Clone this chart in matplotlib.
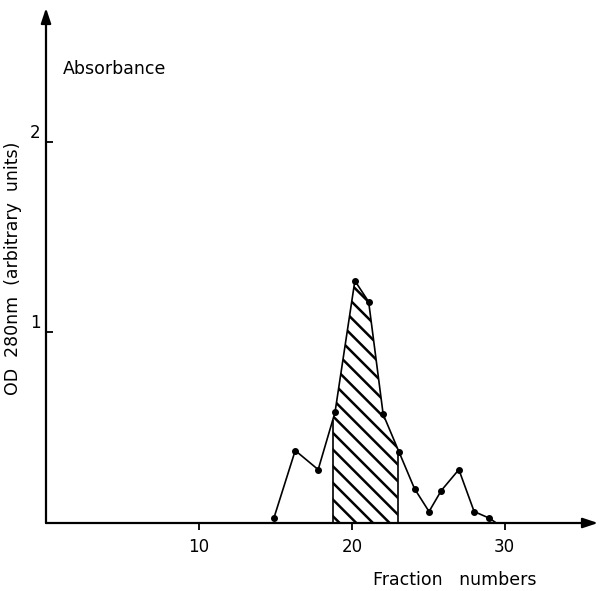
import numpy as np
import matplotlib.pyplot as plt

# fraction number / absorbance
fraction = [14.9, 16.3, 17.8, 18.9, 20.2, 21.1, 22.05, 23.1, 24.1, 25.05, 25.85, 27.0, 28.0, 29.0, 29.45]
absorb = [0.025, 0.38, 0.28, 0.58, 1.27, 1.16, 0.57, 0.37, 0.18, 0.06, 0.17, 0.28, 0.06, 0.025, 0.0]
pooled = (18.75, 23.0)        # hatched (pooled) fractions
xticks = [10, 20, 30]
yticks = [1, 2]

plt.rcParams['font.family'] = 'DejaVu Sans'
plt.rcParams['hatch.linewidth'] = 1.8

W, H = 599, 591
fig = plt.figure(figsize=(W / 100, H / 100), dpi=100)
# axes box in pixels: origin (46, 523), arrow tips at x=598 and y=8
ax = fig.add_axes([46 / W, 1 - 523 / H, (598 - 46) / W, (523 - 8) / H])
ax.set_xlim(0, 36.1)
ax.set_ylim(0, 2.70)
for s in ax.spines.values():
    s.set_visible(False)

# axis lines with arrow heads
arrow = dict(arrowstyle='-|>,head_length=0.9,head_width=0.3', color='black', lw=1.6,
             shrinkA=0, shrinkB=0)
ax.annotate('', xy=(1, 0), xytext=(0, 0), xycoords='axes fraction', arrowprops=arrow,
            annotation_clip=False)
ax.annotate('', xy=(0, 1), xytext=(0, 0), xycoords='axes fraction', arrowprops=arrow,
            annotation_clip=False)

# profile
ax.plot(fraction[:-1], absorb[:-1], 'o', color='black', ms=4, clip_on=False)
ax.plot(fraction, absorb, '-', color='black', lw=1.2, clip_on=False)

# hatched pooled region
xs = [pooled[0]] + [f for f in fraction if pooled[0] < f < pooled[1]] + [pooled[1]]
ys = np.interp(xs, fraction, absorb)
ax.fill_between(xs, 0, ys, facecolor='none', edgecolor='black', hatch='\\\\', linewidth=0)
ax.vlines(pooled, 0, np.interp(pooled, fraction, absorb), color='black', lw=1.2)

# ticks
ax.set_xticks(xticks)
ax.set_xticklabels([str(t) for t in xticks], fontsize=12)
ax.set_yticks(yticks)
ax.set_yticklabels([str(t) for t in yticks], fontsize=12, va='bottom')
ax.tick_params(axis='x', direction='out', length=5, width=1.3, pad=6)
ax.tick_params(axis='y', direction='in', length=5, width=1.3, pad=4)

ax.text(1.1, 2.38, 'Absorbance', fontsize=12.5, va='center', ha='left')
fig.text(373 / W, 1 - 580 / H, 'Fraction   numbers', fontsize=12.5, va='center', ha='left')
fig.text(13 / W, 1 - 268 / H, 'OD  280nm  (arbitrary  units)', fontsize=12.5,
         rotation=90, va='center', ha='center')

fig.savefig('out.png', dpi=100)
